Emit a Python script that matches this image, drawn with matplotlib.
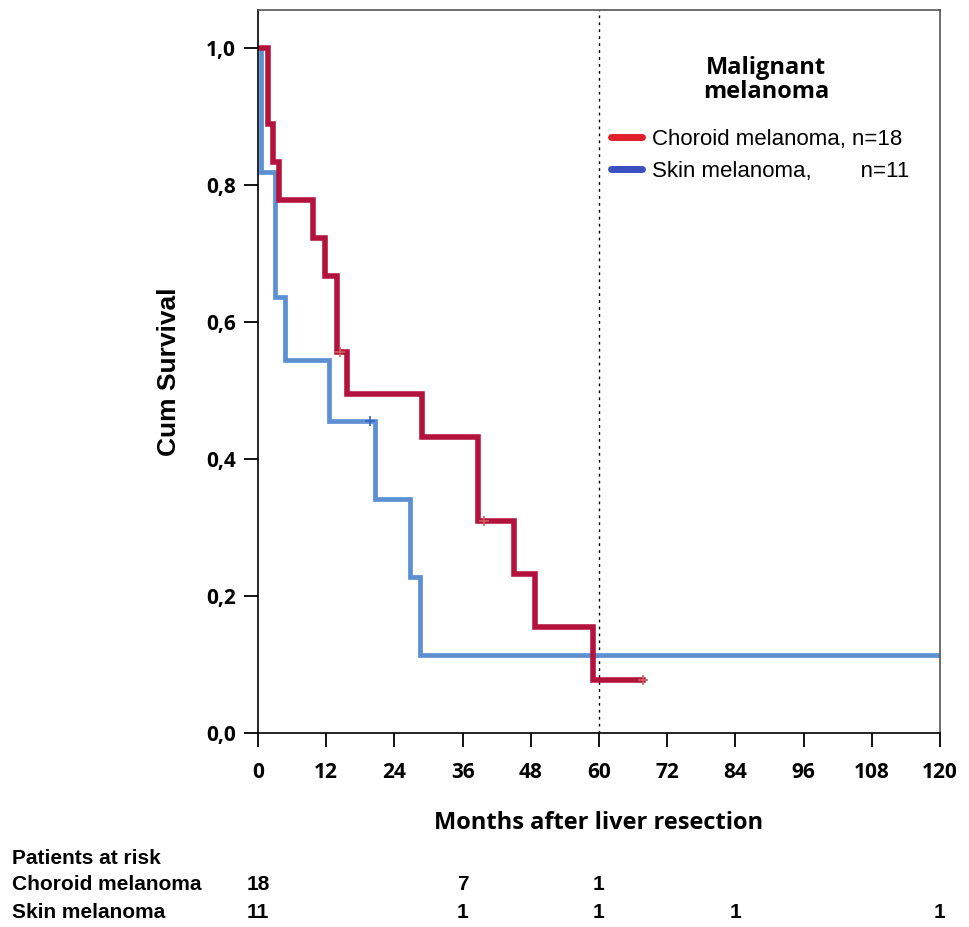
import matplotlib.pyplot as plt
from matplotlib.lines import Line2D
from matplotlib.transforms import blended_transform_factory

# Kaplan-Meier steps
choroid_t = [0, 1.8, 2.7, 3.7, 9.7, 11.8, 13.9, 15.6, 28.9, 38.7, 45.0, 48.8, 59.0, 67.8]
choroid_s = [1.0, 0.889, 0.833, 0.778, 0.722, 0.667, 0.556, 0.494, 0.432, 0.309, 0.232, 0.155, 0.077, 0.077]
choroid_cens_t = [14.5, 39.8, 67.8]
choroid_cens_s = [0.556, 0.309, 0.077]

skin_t = [0, 0.5, 3.0, 4.7, 12.5, 20.6, 26.8, 28.5, 120]
skin_s = [1.0, 0.818, 0.636, 0.545, 0.455, 0.341, 0.227, 0.114, 0.114]
skin_cens_t = [19.7]
skin_cens_s = [0.455]

# Patients at risk table
risk_times = [0, 36, 60, 84, 120]
risk_choroid = ['18', '7', '1', '', '']
risk_skin = ['11', '1', '1', '1', '1']

x_ticks = list(range(0, 121, 12))
y_ticks = [0.0, 0.2, 0.4, 0.6, 0.8, 1.0]
y_labels = ['0,0', '0,2', '0,4', '0,6', '0,8', '1,0']

red = '#B3123C'
blue = '#5C90D2'
wide = ['Open Sans', 'DejaVu Sans']

plt.rcParams['font.family'] = ['Liberation Sans', 'DejaVu Sans']

fig = plt.figure(figsize=(9.7, 9.27), dpi=100)
ax = fig.add_axes([258 / 970, 1 - 733 / 927, (940 - 258) / 970, (733 - 10) / 927])

ax.step(skin_t, skin_s, where='post', color=blue, linewidth=3.4, solid_joinstyle='miter')
ax.plot(skin_cens_t, skin_cens_s, '+', color='#3A5FC0', markersize=7, markeredgewidth=1.2)
ax.step(choroid_t, choroid_s, where='post', color=red, linewidth=4.0, solid_joinstyle='miter')
ax.plot(choroid_cens_t, choroid_cens_s, '+', color='#D0605A', markersize=7, markeredgewidth=1.2)

ax.axvline(60, color='black', linestyle=(0, (2, 3)), linewidth=1.0, zorder=0)

ax.set_xlim(0, 120)
ax.set_ylim(0, 1.055)
ax.set_xticks(x_ticks)
ax.set_xticklabels([str(t) for t in x_ticks], fontsize=15, fontweight='bold', family=wide)
ax.set_yticks(y_ticks)
ax.set_yticklabels(y_labels, fontsize=15, fontweight='bold', family=wide)
ax.tick_params(direction='out', length=10, width=1.3, colors='black')
ax.tick_params(axis='x', pad=11)
ax.tick_params(axis='y', pad=6)
for s in ax.spines.values():
    s.set_linewidth(1.2)
ax.spines['top'].set_color('#555555')
ax.spines['right'].set_color('#555555')

ax.set_xlabel('Months after liver resection', fontsize=17, fontweight='bold',
              family=wide, labelpad=20)
ax.set_ylabel('Cum Survival', fontsize=19, fontweight='bold', labelpad=18)

# legend
ax.text(766 / 970, 1 - 80 / 927, 'Malignant\nmelanoma', transform=fig.transFigure,
        fontsize=17, fontweight='bold', family=wide, ha='center', va='center',
        linespacing=1.0)
handles = [Line2D([], [], color='#E0202C', linewidth=5, solid_capstyle='round'),
           Line2D([], [], color='#3A4FC0', linewidth=5, solid_capstyle='round')]
labels = ['Choroid melanoma, n=18', 'Skin melanoma,        n=11']
ax.legend(handles, labels, frameon=False, loc='upper left',
          bbox_to_anchor=(611 / 970, 1 - 129 / 927), bbox_transform=fig.transFigure,
          fontsize=16, handlelength=1.4, handletextpad=0.45, labelspacing=0.5,
          borderpad=0, borderaxespad=0)

# at-risk table below the chart
tr = blended_transform_factory(ax.transData, fig.transFigure)
fig.text(12 / 970, 1 - 859 / 927, 'Patients at risk', fontsize=15, fontweight='bold',
         va='center')
fig.text(12 / 970, 1 - 885 / 927, 'Choroid melanoma', fontsize=15, fontweight='bold',
         va='center')
fig.text(12 / 970, 1 - 913 / 927, 'Skin melanoma', fontsize=15, fontweight='bold',
         va='center')
for t, c, s in zip(risk_times, risk_choroid, risk_skin):
    ax.text(t, 1 - 885 / 927, c, transform=tr, fontsize=15, fontweight='bold',
            ha='center', va='center')
    ax.text(t, 1 - 913 / 927, s, transform=tr, fontsize=15, fontweight='bold',
            ha='center', va='center')

fig.savefig('out.png', dpi=100)
